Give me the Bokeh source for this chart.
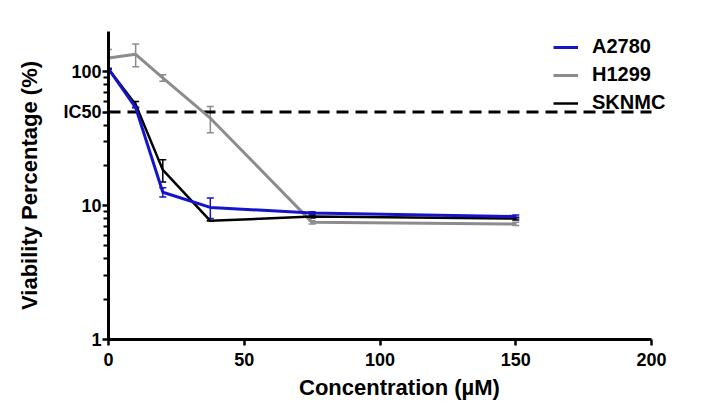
import math
from bokeh.plotting import figure
from bokeh.models import (Range1d, FixedTicker, Whisker, TeeHead, ColumnDataSource,
                          Legend, LegendItem)
from bokeh.embed import file_html
from bokeh.resources import INLINE

# ---- data ----
conc = [0, 10, 20, 37.5, 75, 150]
a2780 = [105, 54, 12.6, 9.7, 8.8, 8.3]
a2780_sem = [0, 0, 1.0, 1.7, 0.2, 0.2]
h1299 = [127, 135, 90, 45, 7.5, 7.3]
h1299_sem = [20, 26, 5, 10, 0.2, 0.2]
sknmc = [105, 57, 18.5, 7.7, 8.3, 8.0]
sknmc_sem = [0, 3, 3.5, 0, 0.2, 0.2]
series_names = ["A2780", "H1299", "SKNMC"]
ic50 = 50
x_ticks = [0, 50, 100, 150, 200]
y_ticks = [1, 10, 50, 100]
y_labels = {1: "1", 10: "10", 50: "IC50", 100: "100"}
y_minor = [2, 3, 4, 5, 6, 7, 8, 9, 20, 30, 40, 60, 70, 80, 90]

FONT = "Liberation Sans"
BLUE = "#1414c8"
GRAY = "#8c8c8c"
BLACK = "#000000"

# layout: axis spans 0..200 over 543 px, frame extended right for the legend
W, H = 690, 415
LEFT, TOP, BOTTOM = 108, 31, 76
axis_px = 543
frame_px = W - LEFT
x_max = x_ticks[-1]
x_end = x_max * frame_px / axis_px

p = figure(width=W, height=H, output_backend="svg", toolbar_location=None,
           x_range=Range1d(0, x_end), y_range=Range1d(1, 200), y_axis_type="log",
           min_border_left=LEFT, min_border_right=0, min_border_top=TOP,
           min_border_bottom=BOTTOM)
p.outline_line_color = None
p.xgrid.visible = False
p.ygrid.visible = False

for ax in (p.xaxis[0], p.yaxis[0]):
    ax.axis_line_width = 3
    ax.axis_line_color = "black"
    ax.major_tick_line_width = 2.5
    ax.major_tick_in = 0
    ax.major_tick_out = 6
    ax.minor_tick_in = 0
    ax.major_label_text_font = FONT
    ax.major_label_text_font_style = "bold"
    ax.major_label_text_font_size = "18px"
    ax.major_label_text_color = "black"
    ax.axis_label_text_font = FONT
    ax.axis_label_text_font_style = "bold"
    ax.axis_label_text_font_size = "22px"
    ax.axis_label_text_color = "black"

p.xaxis.ticker = FixedTicker(ticks=x_ticks)
p.xaxis.bounds = (0, x_max)
p.xaxis.minor_tick_out = 0
p.xaxis.major_label_standoff = 7
p.xaxis.axis_label = "Concentration (µM)"
p.xaxis.axis_label_standoff = 6

p.yaxis.ticker = FixedTicker(ticks=y_ticks, minor_ticks=y_minor)
p.yaxis.major_label_overrides = y_labels
p.yaxis.minor_tick_out = 5
p.yaxis.minor_tick_line_width = 2
p.yaxis.major_label_standoff = 1
p.yaxis.axis_label = "Viability Percentage (%)"
p.yaxis.axis_label_standoff = 18

# IC50 line from 0 to axis end
p.segment(x0=[0], y0=[ic50], x1=[x_max], y1=[ic50], line_color="black",
          line_width=3, line_dash="12 7")

items = []
for name, vals, sem, color, lw in [("H1299", h1299, h1299_sem, GRAY, 3),
                                   ("SKNMC", sknmc, sknmc_sem, BLACK, 2.5),
                                   ("A2780", a2780, a2780_sem, BLUE, 3)]:
    src = ColumnDataSource(dict(x=conc, y=vals,
                                lo=[v - s for v, s in zip(vals, sem)],
                                hi=[v + s for v, s in zip(vals, sem)]))
    w = Whisker(base="x", upper="hi", lower="lo", source=src, line_color=color,
                line_width=1.5,
                upper_head=TeeHead(size=7, line_color=color, line_width=1.5),
                lower_head=TeeHead(size=7, line_color=color, line_width=1.5))
    p.add_layout(w)
    r = p.line("x", "y", source=src, line_color=color, line_width=lw)
    t = p.scatter(x=[], y=[], marker="dash", angle=math.pi / 2, size=7,
                  line_color=color, line_width=1.5)
    items.append((name, [r, t]))

order = {n: i for i, n in enumerate(series_names)}
items.sort(key=lambda it: order[it[0]])
legend = Legend(items=[LegendItem(label=n, renderers=rs) for n, rs in items],
                location=(445, 225), orientation="vertical")
legend.label_text_font = FONT
legend.label_text_font_style = "bold"
legend.label_text_font_size = "20px"
legend.label_text_color = "black"
legend.glyph_width = 25
legend.glyph_height = 20
legend.label_height = 20
legend.label_standoff = 14
legend.spacing = 5
legend.padding = 0
legend.margin = 0
legend.border_line_color = None
legend.background_fill_alpha = 0
p.add_layout(legend)

open("out.html", "w").write(file_html(p, INLINE))
